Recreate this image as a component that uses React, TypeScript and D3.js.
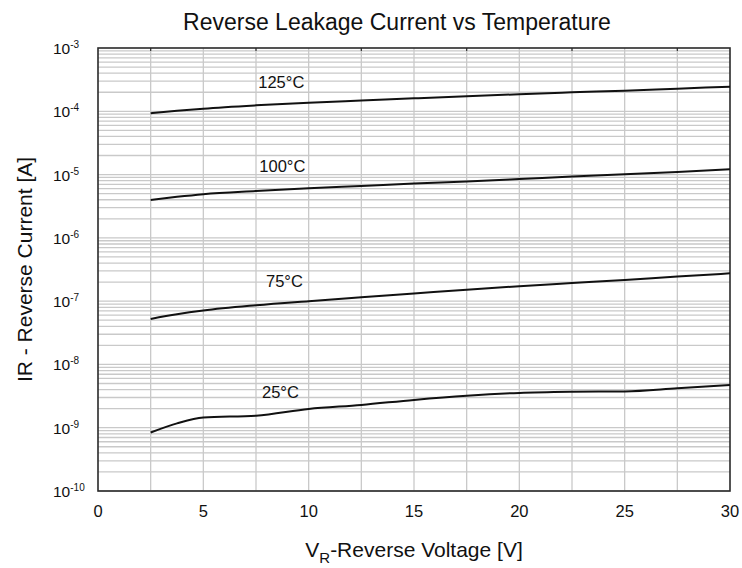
import React from 'react';
import * as d3 from 'd3';

// reverse voltage samples [V]
const voltages = [2.5, 3.75, 5, 7.5, 10, 12.5, 15, 17.5, 20, 22.5, 25, 27.5, 30];

// reverse current [A] per temperature
const ir125 = [9.3e-5, 1.02e-4, 1.1e-4, 1.24e-4, 1.37e-4, 1.48e-4, 1.6e-4, 1.73e-4, 1.86e-4, 1.99e-4, 2.12e-4, 2.28e-4, 2.45e-4];
const ir100 = [3.97e-6, 4.45e-6, 4.9e-6, 5.5e-6, 6.07e-6, 6.6e-6, 7.2e-6, 7.8e-6, 8.5e-6, 9.3e-6, 1.01e-5, 1.1e-5, 1.21e-5];
const ir75 = [5.24e-8, 6.2e-8, 7.1e-8, 8.6e-8, 1.0e-7, 1.15e-7, 1.32e-7, 1.52e-7, 1.72e-7, 1.93e-7, 2.16e-7, 2.45e-7, 2.75e-7];
const ir25 = [8.4e-10, 1.17e-9, 1.45e-9, 1.55e-9, 1.98e-9, 2.29e-9, 2.75e-9, 3.2e-9, 3.55e-9, 3.7e-9, 3.75e-9, 4.2e-9, 4.74e-9];

const seriesNames = ['125°C', '100°C', '75°C', '25°C'];
const seriesValues = [ir125, ir100, ir75, ir25];
// where each curve label sits (voltage, current)
const labelVolts = [8.7, 8.75, 8.85, 8.66];
const labelCurrents = [2.33e-4, 1.1e-5, 1.68e-7, 2.96e-9];

const xTicks = [0, 5, 10, 15, 20, 25, 30];
const xGrid = [2.5, 5, 7.5, 10, 12.5, 15, 17.5, 20, 22.5, 25, 27.5];
const yExponents = [-3, -4, -5, -6, -7, -8, -9, -10];

const width = 742;
const height = 568;
const margin = { top: 48, right: 12, bottom: 77, left: 98 };

export default function App() {
  const x = d3.scaleLinear().domain([0, 30]).range([margin.left, width - margin.right]);
  const y = d3.scaleLog().domain([1e-10, 1e-3]).range([height - margin.bottom, margin.top]);

  // minor grid: 1..9 in every decade
  const yGrid: number[] = [];
  for (let e = -10; e < -3; e++) {
    for (let m = 1; m <= 9; m++) yGrid.push(m * Math.pow(10, e));
  }

  const line = d3
    .line<[number, number]>()
    .x((d) => x(d[0]))
    .y((d) => y(d[1]))
    .curve(d3.curveMonotoneX);

  const font = 'Liberation Sans, Arial, sans-serif';
  const [x0, x1] = x.range();
  const [y0, y1] = y.range();

  return (
    <svg
      width={width}
      height={height}
      style={{ position: 'absolute', left: 0, top: 0, background: '#fff' }}
      fontFamily={font}
    >
      <text x={(x0 + x1) / 2 - 17} y={30} textAnchor="middle" fontSize={23} fill="#111">
        Reverse Leakage Current vs Temperature
      </text>

      <g stroke="#c9c9c9" strokeWidth={1.3}>
        {yGrid.map((v, i) => (
          <line key={'h' + i} x1={x0} x2={x1} y1={y(v)} y2={y(v)} />
        ))}
        {xGrid.map((v) => (
          <line key={'v' + v} x1={x(v)} x2={x(v)} y1={y0} y2={y1} />
        ))}
      </g>

      <g stroke="#333" strokeWidth={1.2}>
        {xGrid
          .filter((v) => v % 5 !== 0)
          .map((v) => (
            <line key={'t' + v} x1={x(v)} x2={x(v)} y1={y1} y2={y1 + 3} />
          ))}
      </g>

      <rect x={x0} y={y1} width={x1 - x0} height={y0 - y1} fill="none" stroke="#2a2a2a" strokeWidth={1.6} />

      {seriesValues.map((vals, i) => (
        <path
          key={seriesNames[i]}
          d={line(voltages.map((v, j) => [v, vals[j]] as [number, number])) || ''}
          fill="none"
          stroke="#111"
          strokeWidth={2}
        />
      ))}

      {seriesNames.map((name, i) => (
        <text key={'l' + name} x={x(labelVolts[i])} y={y(labelCurrents[i])} textAnchor="middle" fontSize={16.5} fill="#111">
          {name}
        </text>
      ))}

      {xTicks.map((v) => (
        <text key={'xt' + v} x={x(v)} y={517} textAnchor="middle" fontSize={16.5} fill="#111">
          {v}
        </text>
      ))}

      {yExponents.map((e) => (
        <text key={'yt' + e} x={53} y={y(Math.pow(10, e)) + 6} fontSize={15.5} fill="#111">
          10
          <tspan fontSize={10} dy={-6}>
            {e}
          </tspan>
        </text>
      ))}

      <text x={(x0 + x1) / 2} y={557} textAnchor="middle" fontSize={21} fill="#111">
        V
        <tspan fontSize={15} dy={6}>R</tspan>
        <tspan dy={-6}>-Reverse Voltage [V]</tspan>
      </text>

      <text
        transform={`translate(32,${(y0 + y1) / 2}) rotate(-90)`}
        textAnchor="middle"
        fontSize={21}
        fill="#111"
      >
        IR - Reverse Current [A]
      </text>
    </svg>
  );
}
